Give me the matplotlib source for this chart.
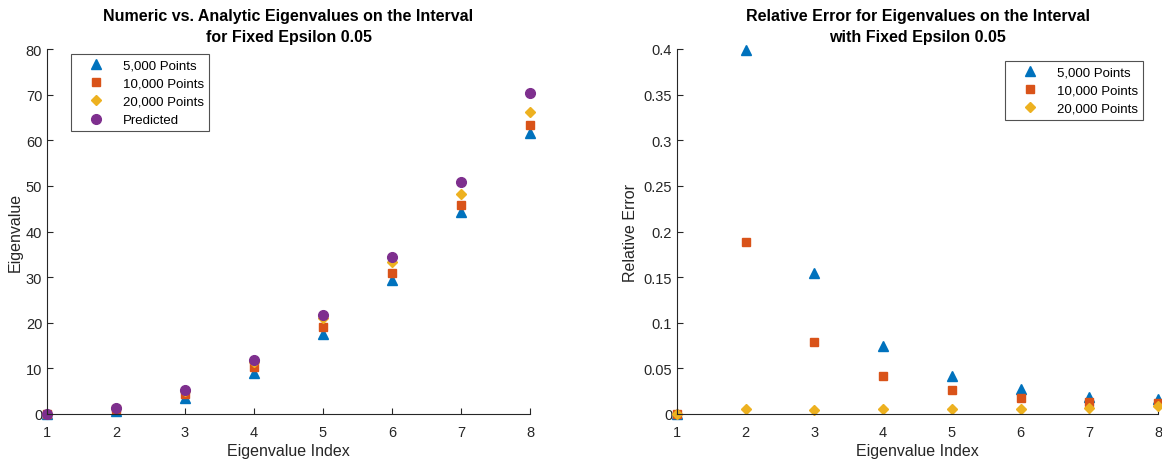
import matplotlib.pyplot as plt

plt.rcParams['font.family'] = ['Liberation Sans', 'DejaVu Sans']

# Eigenvalue index
idx = [1, 2, 3, 4, 5, 6, 7, 8]

# Numeric eigenvalues for each grid size, plus the analytic prediction
eig_5k = [0.0, 0.7, 3.5, 9.0, 17.6, 29.4, 44.2, 61.6]
eig_10k = [0.0, 1.0, 4.3, 10.3, 19.0, 31.0, 45.7, 63.3]
eig_20k = [0.0, 1.3, 5.0, 11.3, 21.0, 33.3, 48.3, 66.2]
eig_pred = [0.0, 1.3, 5.3, 11.9, 21.6, 34.5, 50.8, 70.4]

# Relative errors
err_5k = [0.0, 0.399, 0.155, 0.075, 0.042, 0.027, 0.019, 0.016]
err_10k = [0.0, 0.189, 0.079, 0.042, 0.026, 0.017, 0.013, 0.012]
err_20k = [0.0, 0.005, 0.004, 0.005, 0.005, 0.005, 0.007, 0.009]

labels = ['5,000 Points', '10,000 Points', '20,000 Points', 'Predicted']
colors = ['#0072BD', '#D95319', '#EDB120', '#7E2F8E']
markers = ['^', 's', 'D', 'o']
msizes = [7, 5.5, 5.5, 7]

fig = plt.figure(figsize=(11.62, 4.64), dpi=100)
ax1 = fig.add_axes([47 / 1162, 1 - 415 / 464, (530 - 47) / 1162, (415 - 50) / 464])
ax2 = fig.add_axes([677 / 1162, 1 - 415 / 464, (1158 - 677) / 1162, (415 - 50) / 464])


def style(ax):
    for s in ['top', 'right']:
        ax.spines[s].set_visible(False)
    for s in ['left', 'bottom']:
        ax.spines[s].set_color('#262626')
        ax.spines[s].set_linewidth(0.8)
    ax.tick_params(direction='in', length=4, width=0.8, colors='#262626',
                   labelsize=10.5, labelcolor='#262626')
    ax.tick_params(axis='x', pad=8)
    ax.set_xlim(1, 8)
    ax.set_xticks(idx)
    ax.set_xlabel('Eigenvalue Index', fontsize=11.5, color='#262626', labelpad=3)


def legend(ax, anchor, loc):
    leg = ax.legend(loc=loc, bbox_to_anchor=anchor, fontsize=9.5,
                    frameon=True, fancybox=False, edgecolor='#262626',
                    borderaxespad=0, handlelength=3.0, handletextpad=0.5,
                    borderpad=0.4, labelspacing=0.45)
    leg.get_frame().set_linewidth(0.8)
    return leg


left_series = [eig_5k, eig_10k, eig_20k, eig_pred]
for ys, lab, c, m, ms in zip(left_series, labels, colors, markers, msizes):
    ax1.plot(idx, ys, linestyle='none', marker=m, color=c, markersize=ms,
             label=lab, clip_on=False)
style(ax1)
ax1.set_ylim(0, 80)
ax1.set_yticks(range(0, 81, 10))
ax1.set_ylabel('Eigenvalue', fontsize=11.5, color='#262626', labelpad=2)
ax1.set_title('Numeric vs. Analytic Eigenvalues on the Interval\nfor Fixed Epsilon 0.05',
              fontsize=11.5, fontweight='bold', pad=6, linespacing=1.45)
legend(ax1, (0.05, 0.986), 'upper left')

right_series = [err_5k, err_10k, err_20k]
for ys, lab, c, m, ms in zip(right_series, labels[:3], colors[:3], markers[:3], msizes[:3]):
    ax2.plot(idx, ys, linestyle='none', marker=m, color=c, markersize=ms,
             label=lab, clip_on=False)
style(ax2)
ax2.set_ylim(0, 0.4)
ax2.set_yticks([0, 0.05, 0.1, 0.15, 0.2, 0.25, 0.3, 0.35, 0.4])
ax2.set_yticklabels(['0', '0.05', '0.1', '0.15', '0.2', '0.25', '0.3', '0.35', '0.4'])
ax2.set_ylabel('Relative Error', fontsize=11.5, color='#262626', labelpad=4)
ax2.set_title('Relative Error for Eigenvalues on the Interval\nwith Fixed Epsilon 0.05',
              fontsize=11.5, fontweight='bold', pad=6, linespacing=1.45)
legend(ax2, (0.969, 0.967), 'upper right')

fig.savefig('out.png', dpi=100)
